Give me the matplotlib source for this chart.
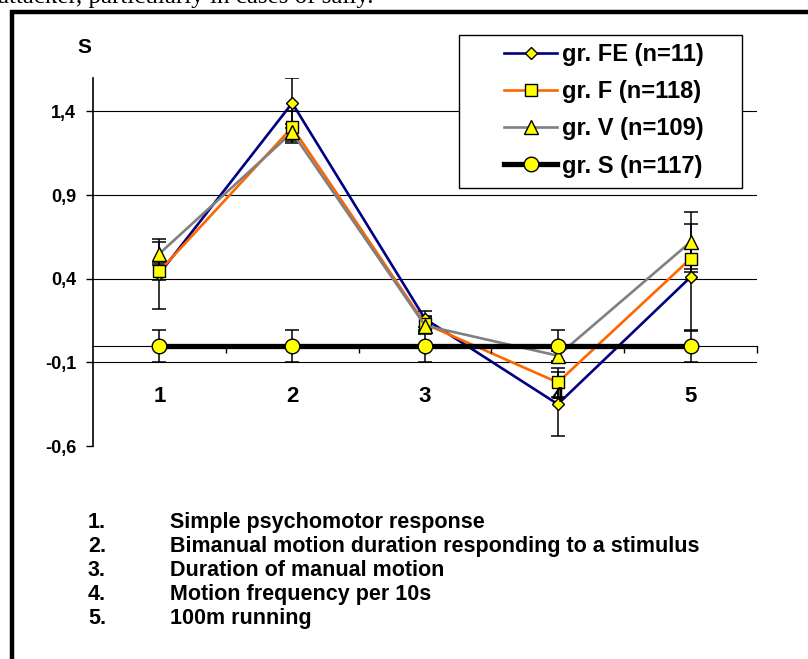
import numpy as np
import matplotlib
matplotlib.use("Agg")
import matplotlib.pyplot as plt
from matplotlib.patches import Rectangle

# ---------------- data ----------------
categories = ["1", "2", "3", "4", "5"]
series_names = ["gr. FE (n=11)", "gr. F (n=118)", "gr. V (n=109)", "gr. S (n=117)"]
fe_vals = [0.43, 1.45, 0.16, -0.35, 0.41]
fe_err = [0.21, 0.15, 0.05, 0.19, 0.32]
f_vals = [0.445, 1.305, 0.13, -0.22, 0.52]
f_err = [0.05, 0.095, 0.05, 0.085, 0.06]
v_vals = [0.55, 1.275, 0.12, -0.06, 0.62]
v_err = [0.07, 0.05, 0.05, 0.03, 0.18]
s_vals = [0.0, 0.0, 0.0, 0.0, 0.0]
s_err = [0.095, 0.095, 0.095, 0.095, 0.095]
ytick_vals = [-0.6, -0.1, 0.4, 0.9, 1.4]
ytick_labels = ["-0,6", "-0,1", "0,4", "0,9", "1,4"]
notes = ["Simple psychomotor response",
         "Bimanual motion duration responding to a stimulus",
         "Duration of manual motion",
         "Motion frequency per 10s",
         "100m running"]
top_text = "attacker, particularly in cases of sally."

plt.rcParams['font.family'] = ['Liberation Sans', 'DejaVu Sans']

W, H = 808, 659
fig = plt.figure(figsize=(W / 100, H / 100), dpi=100)
ax = fig.add_axes([93 / W, 1 - 446 / H, (757 - 93) / W, (446 - 78) / H])

x = np.arange(1, len(categories) + 1)

styles = [
    dict(color="#000080", marker="D", ms=6.2, lw=1.9),
    dict(color="#FF6600", marker="s", ms=9.2, lw=1.9),
    dict(color="#808080", marker="^", ms=9.4, lw=1.9),
    dict(color="#000000", marker="o", ms=10.5, lw=3.8),
]
all_vals = [fe_vals, f_vals, v_vals, s_vals]
all_err = [fe_err, f_err, v_err, s_err]

for vals, err in zip(all_vals, all_err):
    ax.errorbar(x, vals, yerr=err, fmt="none", ecolor="black", elinewidth=1.1,
                capsize=5, capthick=1.1, zorder=2.5)

for i, (vals, name, st) in enumerate(zip(all_vals, series_names, styles)):
    ax.plot(x, vals, color=st["color"], lw=st["lw"], marker=st["marker"],
            ms=st["ms"], mfc="#FFFF00", mec="black", mew=1.0,
            label=name, zorder=3 + 0.1 * i)

ax.set_xlim(0.5, len(categories) + 0.5)
ax.set_ylim(-0.6, 1.6)

# y axis
ax.set_yticks(ytick_vals)
ax.set_yticklabels(ytick_labels, fontsize=13, fontweight="bold")
ax.tick_params(axis="y", direction="out", length=5, width=1, pad=7, color="black")
ax.yaxis.grid(True, color="black", lw=0.8)
gl = ax.yaxis.get_gridlines()
gl[0].set_color("#e6e6e6")

# x axis at zero
ax.spines["bottom"].set_position(("data", 0))
ax.spines["bottom"].set_linewidth(0.8)
ax.spines["top"].set_visible(False)
ax.spines["right"].set_visible(False)
ax.spines["left"].set_linewidth(1.2)
ax.set_xticks(x)
ax.set_xticklabels(categories, fontsize=16, fontweight="bold")
ax.set_xticks(np.arange(1.5, len(categories) + 1, 1.0), minor=True)
ax.tick_params(axis="x", which="major", length=0, pad=29)
ax.tick_params(axis="x", which="minor", direction="out", length=5, width=1)
ax.xaxis.set_zorder(10)

ax.set_ylabel("S", rotation=0, fontsize=15, fontweight="bold")
ax.yaxis.set_label_coords(-0.013, 1.083)
ax.yaxis.label.set_va("center")
ax.yaxis.label.set_ha("center")

# legend box (drawn separately to match the wide Excel-style frame)
box = Rectangle((459 / W, 1 - 188 / H), (742 - 459) / W, (188 - 35) / H,
                transform=fig.transFigure, facecolor="white", edgecolor="black",
                lw=1.0, zorder=19, clip_on=False)
ax.add_patch(box)
leg = ax.legend(loc="upper left", bbox_to_anchor=(504 / W, 1 - 43 / H),
                bbox_transform=fig.transFigure, frameon=False,
                prop=dict(size=17, weight="bold"), handlelength=2.25,
                handletextpad=0.2, labelspacing=0.6, borderpad=0,
                borderaxespad=0)
leg.set_zorder(20)

# notes under the chart
y0 = 528
for i, n in enumerate(notes):
    yy = 1 - (y0 + 24 * i) / H
    fig.text(88 / W, yy, f"{i + 1}.", fontsize=15.5, fontweight="bold", va="baseline")
    fig.text(170 / W, yy, n, fontsize=15.5, fontweight="bold", va="baseline")

# page frame and clipped text above
fig.patches.append(Rectangle((12 / W, -0.1), 1.2, 1.1 - 12 / H,
                             transform=fig.transFigure, fill=False,
                             edgecolor="black", lw=3.2))
fig.text(-2 / W, 1 - 3 / H, top_text, fontsize=18, family="Liberation Serif",
         va="baseline")

fig.savefig("out.png", dpi=100)
